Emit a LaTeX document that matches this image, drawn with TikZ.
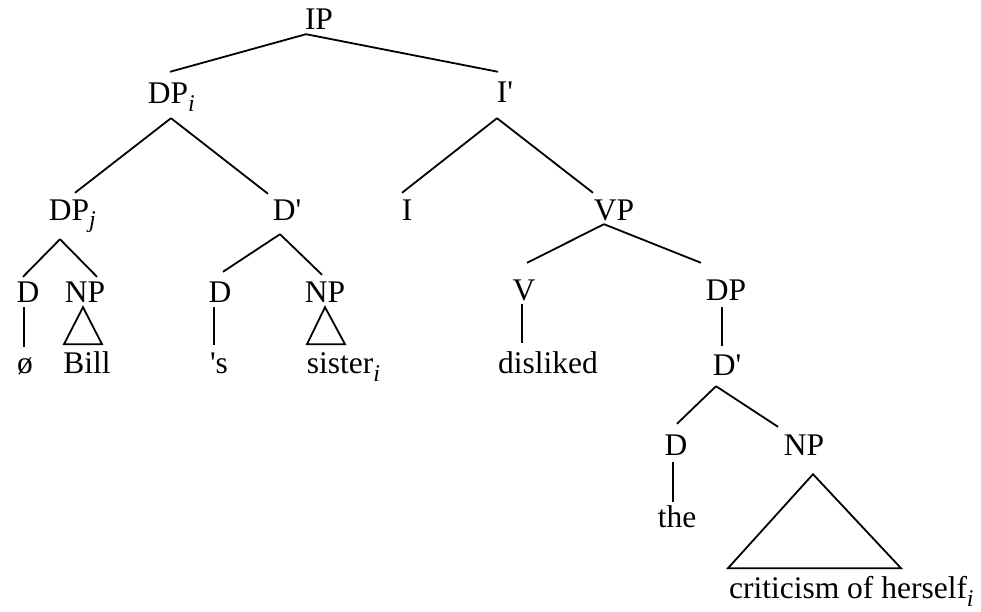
\documentclass[tikz,border=0pt]{standalone}
\usepackage{fontspec}
\setmainfont{Liberation Serif}
\usepackage{tikz}

\newcommand{\sub}[1]{\rlap{\raisebox{-8pt}{\fontsize{24}{24}\selectfont\itshape #1}}}
\newcommand{\prm}{\textquotesingle}

\tikzset{
    lbl/.style={inner sep=0pt, anchor=base, text height=21pt, text depth=0pt,
        font=\fontsize{31.5}{36}\selectfont},
    branch/.style={line width=1.8pt}
}

\begin{document}
\begin{tikzpicture}[x=1pt, y=-1pt]
            \useasboundingbox (0,0) rectangle (981,612);
            % labels
            \node[lbl] (IP) at (319,30) {IP};
            \node[lbl] (DPi) at (168,104) {DP\sub{i}};
            \node[lbl] (Ibar) at (505,103) {I\prm};
            \node[lbl] (DPj) at (69,220) {DP\sub{j}};
            \node[lbl] (Dbar) at (287,220) {D\prm};
            \node[lbl] (I) at (407,220) {I};
            \node[lbl] (VP) at (614,221) {VP};
            \node[lbl] (Dl) at (28,302) {D};
            \node[lbl] (NPl) at (85,302) {NP};
            \node[lbl] (Dm) at (220,302) {D};
            \node[lbl] (NPm) at (325,302) {NP};
            \node[lbl] (V) at (524,300) {V};
            \node[lbl] (DP) at (726,300) {DP};
            \node[lbl] (null) at (25,373) {ø};
            \node[lbl] (bill) at (87,373) {Bill};
            \node[lbl] (poss) at (219,373) {\prm s};
            \node[lbl] (sister) at (340,373) {sister\sub{i}};
            \node[lbl] (disliked) at (548,373) {disliked};
            \node[lbl] (Dbarn) at (727,375) {D\prm};
            \node[lbl] (Dn) at (676,455) {D};
            \node[lbl] (NPn) at (804,455) {NP};
            \node[lbl] (the) at (677,527) {the};
            \node[lbl] (crit) at (848,598) {criticism of herself\sub{i}};
            % branches
            \draw[branch] ([xshift=-13pt,yshift=-4pt]IP.south) -- ([xshift=2pt,yshift=11pt]DPi.north);
            \draw[branch] ([xshift=-13pt,yshift=-4pt]IP.south) -- ([xshift=-7pt,yshift=10pt]Ibar.north);
            \draw[branch] ([xshift=3pt,yshift=-14pt]DPi.south) -- ([xshift=6pt,yshift=6pt]DPj.north);
            \draw[branch] ([xshift=3pt,yshift=-14pt]DPi.south) -- ([xshift=-19pt,yshift=5pt]Dbar.north);
            \draw[branch] ([xshift=-8pt,yshift=-15pt]Ibar.south) -- ([xshift=-5pt,yshift=6pt]I.north);
            \draw[branch] ([xshift=-8pt,yshift=-15pt]Ibar.south) -- ([xshift=-21pt,yshift=7pt]VP.north);
            \draw[branch] ([xshift=-9pt,yshift=-19pt]DPj.south) -- ([xshift=-5pt,yshift=4pt]Dl.north);
            \draw[branch] ([xshift=-9pt,yshift=-19pt]DPj.south) -- ([xshift=12pt,yshift=4pt]NPl.north);
            \draw[branch] ([xshift=-7pt,yshift=-14pt]Dbar.south) -- ([xshift=3pt,yshift=9pt]Dm.north);
            \draw[branch] ([xshift=-7pt,yshift=-14pt]Dbar.south) -- ([xshift=-3pt,yshift=6pt]NPm.north);
            \draw[branch] ([xshift=-10pt,yshift=-3pt]VP.south) -- ([xshift=3pt,yshift=16pt]V.north);
            \draw[branch] ([xshift=-10pt,yshift=-3pt]VP.south) -- ([xshift=-25pt,yshift=16pt]DP.north);
            \draw[branch] ([xshift=-11pt,yshift=-11pt]Dbarn.south) -- ([xshift=1pt,yshift=10pt]Dn.north);
            \draw[branch] ([xshift=-11pt,yshift=-11pt]Dbarn.south) -- ([xshift=-26pt,yshift=7pt]NPn.north);
            % unary branches
            \draw[branch] ([xshift=-4pt,yshift=-5pt]Dl.south) -- ([xshift=-1pt,yshift=5pt]null.north);
            \draw[branch] ([xshift=-6pt,yshift=-5pt]Dm.south) -- ([xshift=-5pt,yshift=7pt]poss.north);
            \draw[branch] ([xshift=-2pt,yshift=-4pt]V.south) -- ([xshift=-26pt,yshift=9pt]disliked.north);
            \draw[branch] ([xshift=-4pt,yshift=-7pt]DP.south) -- ([xshift=-5pt,yshift=8pt]Dbarn.north);
            \draw[branch] ([xshift=-3pt,yshift=-7pt]Dn.south) -- ([xshift=-4pt,yshift=4pt]the.north);
            % triangles
            \draw[branch] ([xshift=-2pt,yshift=-5pt]NPl.south) -- ([xshift=-21pt,yshift=-42pt]NPl.south)
                -- ([xshift=17pt,yshift=-42pt]NPl.south) -- cycle;
            \draw[branch] ([yshift=-5pt]NPm.south) -- ([xshift=-18pt,yshift=-42pt]NPm.south)
                -- ([xshift=20pt,yshift=-42pt]NPm.south) -- cycle;
            \draw[branch] ([xshift=9pt,yshift=-19pt]NPn.south) -- ([xshift=-76pt,yshift=-113pt]NPn.south)
                -- ([xshift=97pt,yshift=-113pt]NPn.south) -- cycle;
        \end{tikzpicture}
\end{document}
